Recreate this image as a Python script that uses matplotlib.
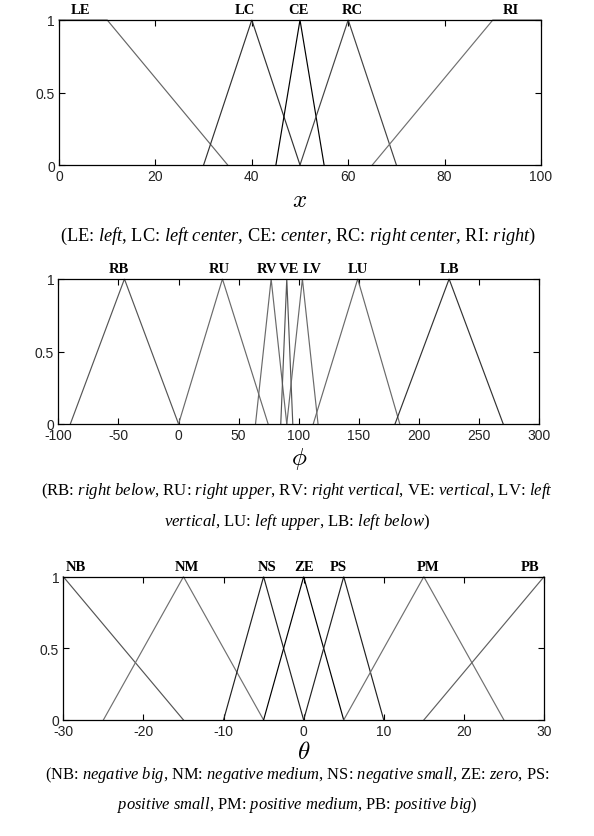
import matplotlib
matplotlib.use('Agg')
import matplotlib.pyplot as plt
import matplotlib.transforms as mtrans

plt.rcParams['mathtext.fontset'] = 'custom'
plt.rcParams['mathtext.rm'] = 'Liberation Serif'
plt.rcParams['mathtext.it'] = 'Liberation Serif:italic'
plt.rcParams['axes.unicode_minus'] = False

# ---------------- data ----------------
# Panel 1: position x
x_names = ['LE', 'LC', 'CE', 'RC', 'RI']
x_points = [[0, 10, 35], [30, 40, 50], [45, 50, 55], [50, 60, 70], [65, 90, 100]]
x_mu = [[1, 1, 0], [0, 1, 0], [0, 1, 0], [0, 1, 0], [0, 1, 1]]
x_label_pos = [4.4, 38.6, 49.6, 60.9, 93.7]
x_xticks = [0, 20, 40, 60, 80, 100]

# Panel 2: angle phi
phi_names = ['RB', 'RU', 'RV', 'VE', 'LV', 'LU', 'LB']
phi_points = [[-90, -45, 0], [0, 36.5, 74.5], [64, 77, 90], [85, 90, 95],
              [90, 103, 116], [112, 149, 184], [180, 225, 270]]
phi_mu = [[0, 1, 0]] * 7
phi_label_pos = [-49.4, 33.5, 73.7, 92.0, 111.0, 149.2, 225.7]
phi_xticks = [-100, -50, 0, 50, 100, 150, 200, 250, 300]

# Panel 3: angle theta
th_names = ['NB', 'NM', 'NS', 'ZE', 'PS', 'PM', 'PB']
th_points = [[-30, -30, -15], [-25, -15, -5], [-10, -5, 0], [-5, 0, 5],
             [0, 5, 10], [5, 15, 25], [15, 30, 30]]
th_mu = [[1, 1, 0], [0, 1, 0], [0, 1, 0], [0, 1, 0], [0, 1, 0], [0, 1, 0], [0, 1, 1]]
th_label_pos = [-28.4, -14.6, -4.6, 0.0, 4.3, 15.5, 28.3]
th_xticks = [-30, -20, -10, 0, 10, 20, 30]

y_ticks = [0, 0.5, 1]
y_ticklabels = ['0', '0.5', '1']

# ---------------- styling ----------------
x_colors = ['#666666', '#333333', '#000000', '#444444', '#707070']
phi_colors = ['#555555', '#6a6a6a', '#6a6a6a', '#555555', '#6a6a6a', '#6a6a6a', '#333333']
th_colors = ['#555555', '#707070', '#222222', '#000000', '#222222', '#707070', '#606060']

W, H = 594, 837
fig = plt.figure(figsize=(W / 100, H / 100), dpi=100)


def px_axes(l, r, t, b):
    return fig.add_axes([l / W, 1 - b / H, (r - l) / W, (b - t) / H])


def draw_panel(ax, names, pts, mus, lpos, colors, xticks):
    for p, m, c in zip(pts, mus, colors):
        ax.plot(p, m, color=c, lw=0.85, solid_joinstyle='miter', clip_on=False)
    ax.set_xlim(xticks[0], xticks[-1])
    ax.set_ylim(0, 1)
    ax.set_xticks(xticks)
    ax.set_xticklabels([str(t) for t in xticks])
    ax.set_yticks(y_ticks)
    ax.set_yticklabels(y_ticklabels)
    ax.tick_params(direction='in', top=True, right=True, length=4, width=0.8,
                   labelsize=10, pad=3)
    for lab in ax.get_xticklabels() + ax.get_yticklabels():
        lab.set_fontfamily('Liberation Sans')
        lab.set_color('#222222')
    for s in ax.spines.values():
        s.set_linewidth(0.9)
    trans = mtrans.blended_transform_factory(ax.transData, ax.transAxes)
    for n, xp in zip(names, lpos):
        ax.text(xp, 1.045, n, transform=trans, ha='center', va='baseline',
                fontsize=10.5, fontweight='bold', family='Liberation Serif')


ax1 = px_axes(59, 541, 21, 166)
draw_panel(ax1, x_names, x_points, x_mu, x_label_pos, x_colors, x_xticks)
ax2 = px_axes(58.3, 539.3, 280, 425)
draw_panel(ax2, phi_names, phi_points, phi_mu, phi_label_pos, phi_colors, phi_xticks)
ax3 = px_axes(63.3, 544, 577.7, 721)
draw_panel(ax3, th_names, th_points, th_mu, th_label_pos, th_colors, th_xticks)


def ftext(x, y, s, **kw):
    fig.text(x / W, 1 - y / H, s, ha='center', va='center', **kw)


ftext(300, 200, r'$x$', fontsize=18, math_fontfamily='cm')
ftext(299, 459, r'$\phi$', fontsize=18, math_fontfamily='cm')
ftext(304, 752, r'$\theta$', fontsize=18, math_fontfamily='cm')

ftext(298, 236, r'(LE: $\mathit{left}$, LC: $\mathit{left\ center}$, CE: $\mathit{center}$, '
      r'RC: $\mathit{right\ center}$, RI: $\mathit{right}$)',
      fontsize=13.2, family='Liberation Serif')
cap2 = dict(fontsize=12.1, family='Liberation Serif')
ftext(297, 491, r'(RB: $\mathit{right\ below}$, RU: $\mathit{right\ upper}$, '
      r'RV: $\mathit{right\ vertical}$, VE: $\mathit{vertical}$, LV: $\mathit{left}$', **cap2)
ftext(297, 522, r'$\mathit{vertical}$, LU: $\mathit{left\ upper}$, LB: $\mathit{left\ below}$)', **cap2)
cap3 = dict(fontsize=11.9, family='Liberation Serif')
ftext(297, 775, r'(NB: $\mathit{negative\ big}$, NM: $\mathit{negative\ medium}$, '
      r'NS: $\mathit{negative\ small}$, ZE: $\mathit{zero}$, PS:', **cap3)
ftext(297, 805, r'$\mathit{positive\ small}$, PM: $\mathit{positive\ medium}$, PB: $\mathit{positive\ big}$)', **cap3)

fig.savefig('out.png', dpi=100)
